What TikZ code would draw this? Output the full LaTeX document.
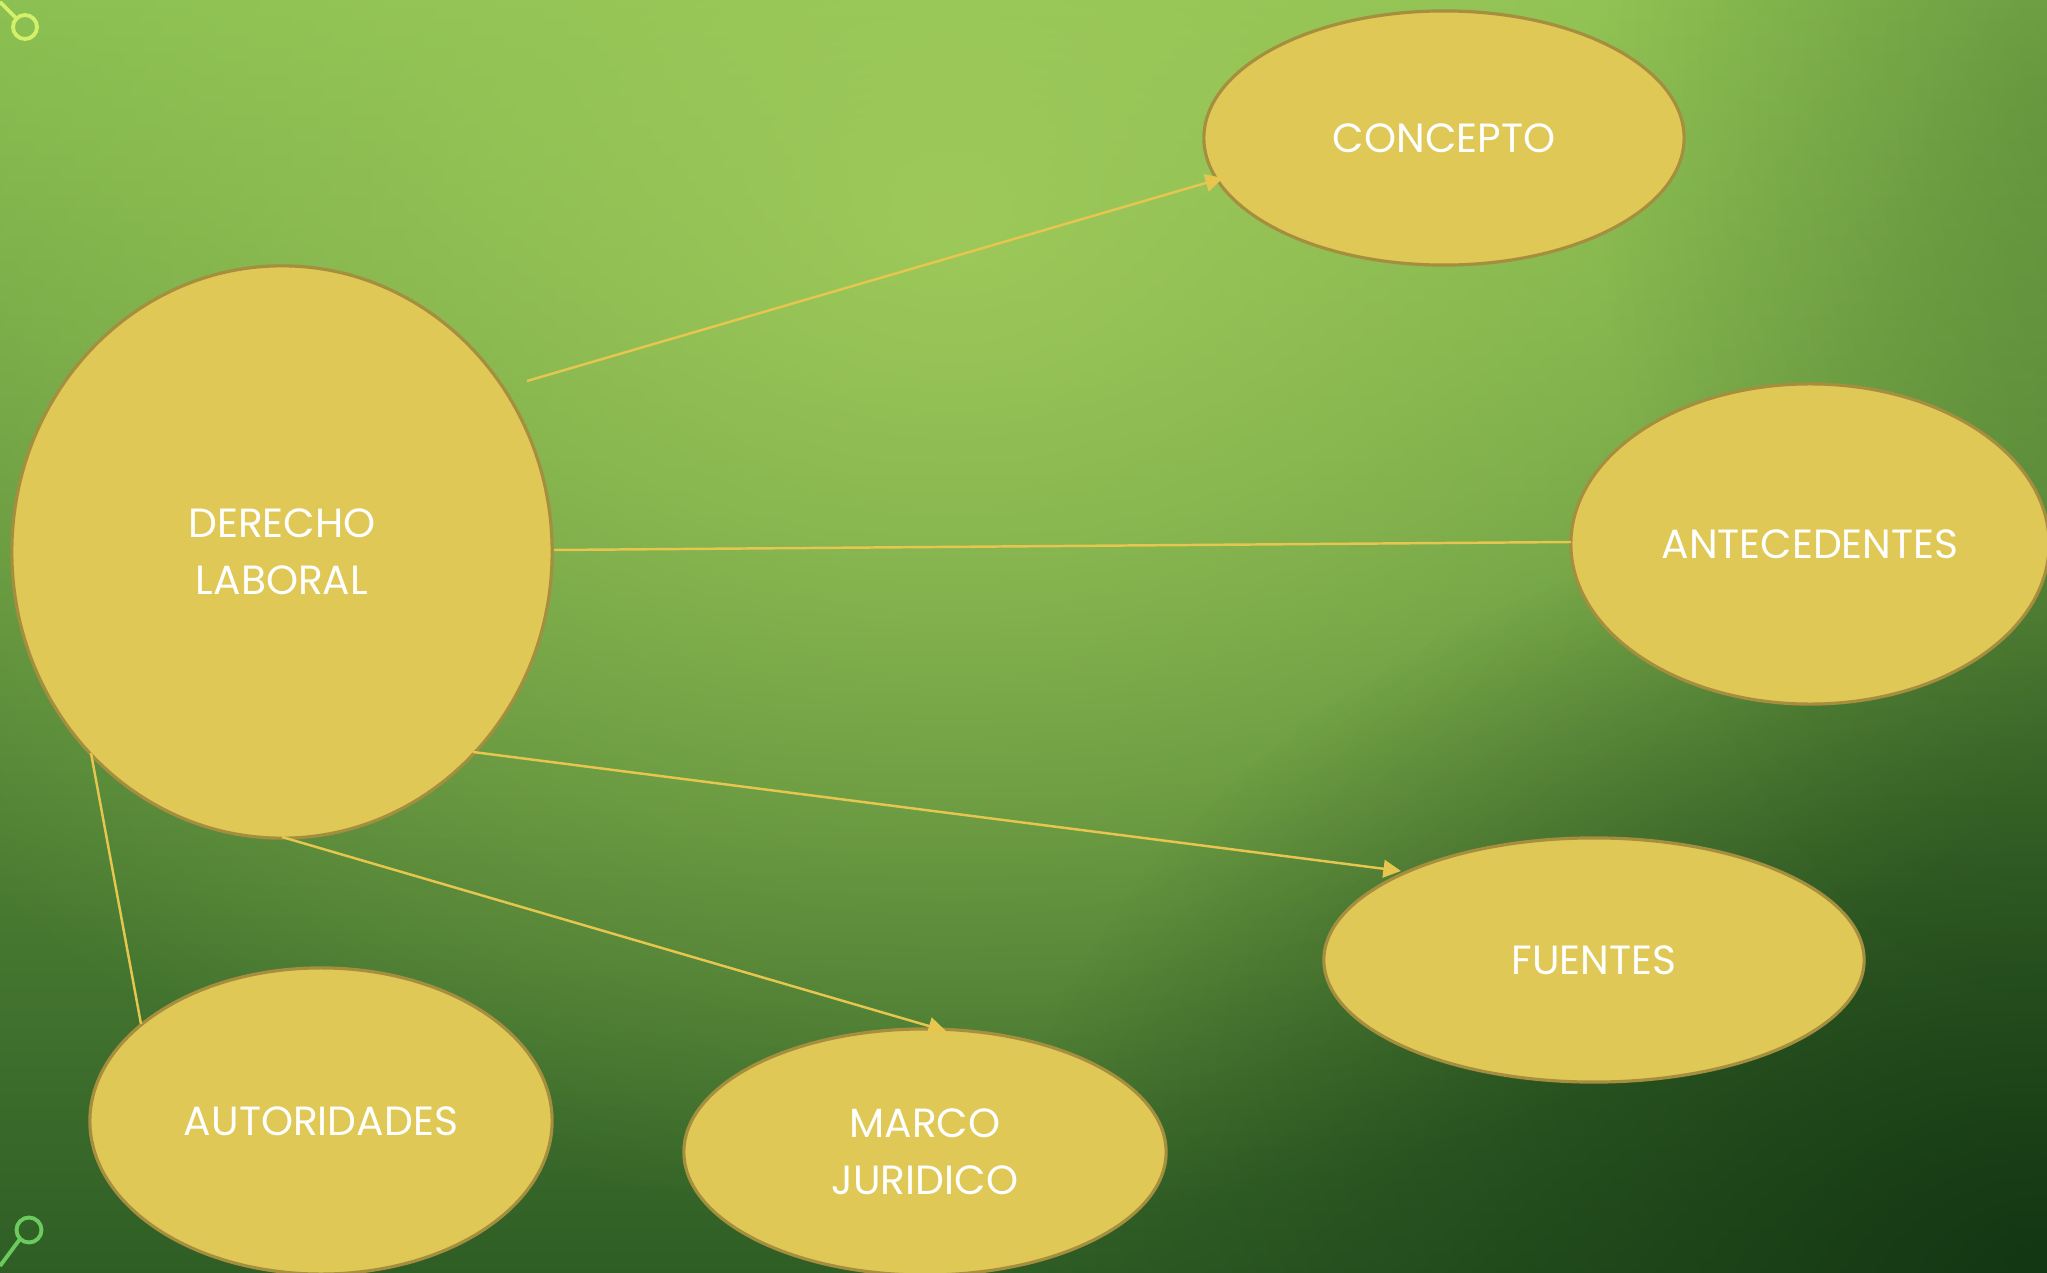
\documentclass[tikz,border=0pt]{standalone}
\usepackage{fontspec}
\setmainfont{Poppins}
\usetikzlibrary{shapes.geometric,arrows.meta,fadings}
\definecolor{bgtop}{HTML}{86BD4F}
\definecolor{bgbot}{HTML}{2F5E25}
\definecolor{glow}{HTML}{A2CC5C}
\definecolor{darkc}{HTML}{123412}
\definecolor{ellfill}{HTML}{DFC855}
\definecolor{ellline}{HTML}{A58E3E}
\definecolor{conn}{HTML}{E6C64E}
\definecolor{decoA}{HTML}{D2F06A}
\definecolor{decoB}{HTML}{6CCB5F}
\tikzfading[name=soft, inner color=transparent!0, outer color=transparent!100]
\tikzset{
  topic/.style={ellipse, fill=ellfill, draw=ellline, line width=0.9pt, inner sep=0pt,
    text=white, align=center, font=\fontsize{11.6}{16.2}\selectfont},
  link/.style={draw=conn, line width=0.7pt},
  arr/.style={link, -{Triangle[length=5pt,width=5pt]}},
  deco/.style={line width=1.1pt}
}
\begin{document}
\begin{tikzpicture}[x=0.01cm,y=-0.01cm]
\useasboundingbox (0,0) rectangle (2047,1273);
\clip (0,0) rectangle (2047,1273);
% background
\shade[top color=bgtop, bottom color=bgbot] (0,0) rectangle (2047,1273);
\fill[glow, path fading=soft, opacity=0.9] (950,220) ellipse [x radius=1300, y radius=1000];
\fill[darkc, path fading=soft, opacity=0.95] (2047,1273) ellipse [x radius=1050, y radius=780];
\fill[darkc, path fading=soft, opacity=0.25] (2047,100) ellipse [x radius=450, y radius=900];
% corner decorations
\draw[decoA, deco] (25,27) circle (12);
\coordinate (dA0) at (0,2);
\draw[decoA, deco] (dA0) -- (16.5,18.5);
\draw[decoB, deco] (29,1230) circle (12.5);
\coordinate (dB0) at (0,1266);
\draw[decoB, deco] (dB0) -- (20,1239);
% nodes
\node[topic, minimum width=5.4cm, minimum height=5.72cm] (dl) at (282,552) {DERECHO\\LABORAL};
\node[topic, minimum width=4.8cm, minimum height=2.54cm] (con) at (1444,138) {CONCEPTO};
\node[topic, minimum width=4.78cm, minimum height=3.2cm] (ant) at (1810,544) {ANTECEDENTES};
\node[topic, minimum width=5.4cm, minimum height=2.44cm] (fue) at (1594,960) {FUENTES};
\node[topic, minimum width=4.62cm, minimum height=3.06cm] (aut) at (321,1121) {AUTORIDADES};
\node[topic, minimum width=4.82cm, minimum height=2.46cm] (mar) at (925,1152) {MARCO\\JURIDICO};
% connectors
\coordinate (s1) at (527,381);
\coordinate (e1) at (1223,178);
\draw[arr] (s1) -- (e1);
\coordinate (s2) at (554,550);
\coordinate (e2) at (1571,542);
\draw[link] (s2) -- (e2);
\coordinate (s3) at (473,752);
\coordinate (e3) at (1401,871);
\draw[arr] (s3) -- (e3);
\coordinate (s4) at (282,837);
\coordinate (e4) at (946,1031);
\draw[arr] (s4) -- (e4);
\coordinate (s5) at (91,753);
\coordinate (e5) at (141,1024);
\draw[link] (s5) -- (e5);
\end{tikzpicture}
\end{document}
